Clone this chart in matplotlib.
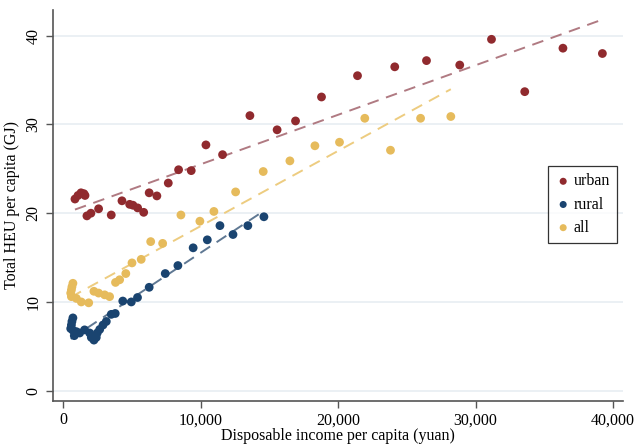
import numpy as np
import matplotlib
matplotlib.use("Agg")
import matplotlib.pyplot as plt
from matplotlib.ticker import FuncFormatter

# disposable income (yuan) vs total HEU per capita (GJ)
urban_x = [850, 1070, 1290, 1500, 1580, 1720, 2010, 2570, 3490, 4270, 4830, 5070,
           5410, 5850, 6250, 6810, 7640, 8390, 9310, 10380, 11590, 13580, 15560,
           16900, 18790, 21410, 24120, 26430, 28850, 31160, 33580, 36360, 39230]
urban_y = [21.6, 22.0, 22.3, 22.2, 22.0, 19.7, 20.0, 20.5, 19.8, 21.4, 21.0, 20.9,
           20.6, 20.1, 22.3, 21.95, 23.4, 24.9, 24.8, 27.7, 26.6, 31.0, 29.4,
           30.4, 33.1, 35.5, 36.5, 37.2, 36.7, 39.6, 33.7, 38.6, 38.0]

rural_x = [540, 590, 630, 700, 700, 800, 950, 1190, 1550, 1920, 2040, 2230, 2400,
           2470, 2650, 2890, 3130, 3490, 3780, 4330, 4950, 5400, 6250, 7420, 8340,
           9450, 10480, 11400, 12350, 13430, 14600]
rural_y = [7.0, 7.4, 7.8, 8.2, 6.8, 6.2, 6.65, 6.5, 6.85, 6.5, 6.0, 5.7, 6.0,
           6.5, 6.9, 7.4, 7.8, 8.6, 8.7, 10.1, 10.0, 10.5, 11.65, 13.2, 14.1,
           16.1, 17.0, 18.6, 17.6, 18.6, 19.6]

all_x = [540, 590, 630, 700, 590, 950, 1310, 1850, 2230, 2570, 3010, 3370, 3800,
         4100, 4550, 5000, 5670, 6360, 7230, 8560, 9940, 10960, 12540, 14550,
         16490, 18310, 20100, 21940, 23810, 26000, 28200]
all_y = [11.0, 11.35, 11.7, 12.1, 10.6, 10.4, 10.0, 9.9, 11.2, 11.0, 10.8, 10.6, 12.2,
         12.5, 13.2, 14.4, 14.8, 16.8, 16.6, 19.8, 19.1, 20.2, 22.4, 24.7,
         25.9, 27.6, 28.0, 30.7, 27.1, 30.7, 30.9]

plt.rcParams['font.family'] = ['Liberation Serif', 'DejaVu Serif']

fig = plt.figure(figsize=(6.34, 4.48), dpi=100)
ax = fig.add_axes([0.084, 0.1056, 0.898, 0.872])

series = [
    ('urban', urban_x, urban_y, '#902a2e', '#b07a82'),
    ('rural', rural_x, rural_y, '#1a4470', '#5f7893'),
    ('all', all_x, all_y, '#e6bb5c', '#edcc80'),
]

for name, xs, ys, c, lc in series:
    xs = np.array(xs)
    ys = np.array(ys)
    b, a = np.polyfit(xs, ys, 1)
    xl = np.array([xs.min(), xs.max()])
    ax.plot(xl, a + b * xl, color=lc, lw=1.4, dashes=(6, 4), zorder=2)

for name, xs, ys, c, lc in series:
    ax.scatter(xs, ys, s=40, color=c, edgecolors='none', label=name, zorder=3)

ax.set_xlim(-730, 40700)
ax.set_ylim(-1.13, 42.9)
ax.set_xticks([0, 10000, 20000, 30000, 40000])
ax.set_yticks([0, 10, 20, 30, 40])
ax.xaxis.set_major_formatter(FuncFormatter(lambda v, p: f'{int(v):,}'))
ax.grid(axis='y', color='#e8edf2', lw=1.2)
ax.set_axisbelow(True)
for s in ['top', 'right']:
    ax.spines[s].set_visible(False)
for s in ['left', 'bottom']:
    ax.spines[s].set_color('#555555')
    ax.spines[s].set_linewidth(1.2)
ax.tick_params(colors='#555555', labelcolor='black', length=5, width=1, labelsize=11.5)
plt.setp(ax.get_yticklabels(), rotation=90, va='center')

ax.set_xlabel('Disposable income per capita (yuan)', fontsize=11.5, labelpad=0)
ax.set_ylabel('Total HEU per capita (GJ)', fontsize=11.5, labelpad=4)

leg = ax.legend(loc='upper left', bbox_to_anchor=(0.869, 0.60), frameon=True,
                fancybox=False, edgecolor='black', fontsize=11.5, handletextpad=0.15,
                borderpad=0.45, labelspacing=0.45, handlelength=1.0, markerscale=0.8,
                borderaxespad=0)
leg.get_frame().set_linewidth(0.9)

fig.savefig('out.png', dpi=100)
